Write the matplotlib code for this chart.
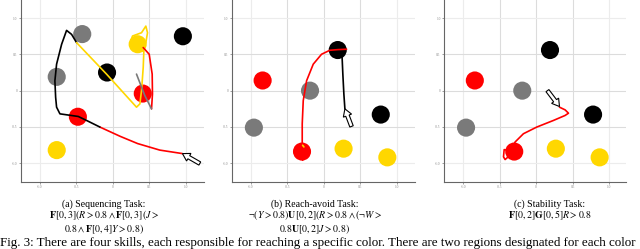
import matplotlib
matplotlib.use('Agg')
import matplotlib.pyplot as plt
from matplotlib.patches import FancyArrow

# Data
ticks = [-1.0, -0.5, 0.0, 0.5, 1.0]
tick_labels = ['-1.0', '-0.5', '0', '0.5', '1.0']

# goal regions, panel (a)
a_circ_x = [-0.42, -0.77, -0.08, 0.34, 0.96, 0.41, -0.48, -0.77]
a_circ_y = [0.78, 0.19, 0.25, 0.64, 0.75, -0.04, -0.36, -0.82]
a_circ_c = ['gray', 'gray', 'black', 'yellow', 'black', 'red', 'red', 'yellow']

# goal regions, panels (b) and (c)
bc_circ_x = [0.19, -0.84, -0.19, -0.96, 0.78, -0.30, 0.27, 0.87]
bc_circ_y = [0.56, 0.14, 0.0, -0.51, -0.33, -0.84, -0.80, -0.92]
bc_circ_c = ['black', 'red', 'gray', 'gray', 'black', 'red', 'yellow', 'yellow']

# trajectory (a), split by active skill
a_seg_c = ['red', 'black', 'yellow', 'red', 'gray']
a_seg_x = [
    [0.954, 0.644, 0.340, 0.100, -0.178],
    [-0.178, -0.361, -0.475, -0.635, -0.726, -0.772, -0.785, -0.795, -0.772, -0.703, -0.635, -0.566, -0.498],
    [-0.498, -0.087, 0.324, 0.370, 0.393, 0.416, 0.425, 0.301, 0.233, 0.269, 0.393, 0.452, 0.475, 0.452, 0.416],
    [0.416, 0.498, 0.539, 0.543, 0.530],
    [0.530, 0.438, 0.324],
]
a_seg_y = [
    [-0.868, -0.820, -0.730, -0.630, -0.502],
    [-0.502, -0.411, -0.356, -0.333, -0.320, -0.228, -0.091, 0.137, 0.365, 0.639, 0.831, 0.776, 0.662],
    [0.662, 0.228, -0.228, -0.183, 0.0, 0.320, 0.548, 0.548, 0.639, 0.753, 0.799, 0.890, 0.799, 0.662, 0.594],
    [0.594, 0.502, 0.228, -0.046, -0.251],
    [-0.251, -0.068, 0.228],
]
a_start = (1.192, -1.005)
a_head = (0.954, -0.868)

# trajectory (b)
b_seg_c = ['black', 'red', 'yellow']
b_seg_x = [
    [0.288, 0.274, 0.260, 0.251, 0.242],
    [0.311, 0.196, 0.082, -0.032, -0.146, -0.237, -0.283, -0.297, -0.297, -0.292],
    [-0.292, -0.274],
]
b_seg_y = [
    [-0.251, -0.046, 0.228, 0.434, 0.548],
    [0.571, 0.566, 0.557, 0.502, 0.365, 0.137, -0.137, -0.457, -0.731, -0.959],
    [-0.753, -0.776],
]
b_start = (0.379, -0.493)
b_head = (0.288, -0.251)

# trajectory (c)
c_seg_c = ['red']
c_seg_x = [[0.320, 0.397, 0.443, 0.397, 0.237, 0.009, -0.174, -0.288, -0.333, -0.393, -0.438, -0.447, -0.425, -0.393]]
c_seg_y = [[-0.228, -0.265, -0.311, -0.342, -0.411, -0.502, -0.594, -0.708, -0.799, -0.822, -0.813, -0.913, -0.950, -0.922]]
c_start = (0.155, 0.0)
c_head = (0.320, -0.219)

captions = [
    ['(a) Sequencing Task:',
     r'$\mathbf{F}[0,3](R>0.8\wedge\mathbf{F}[0,3](J>$',
     r'$0.8\wedge\mathbf{F}[0,4]Y>0.8)$'],
    ['(b) Reach-avoid Task:',
     r'$\neg(Y>0.8)\mathbf{U}[0,2](R>0.8\wedge(\neg W>$',
     r'$0.8\mathbf{U}[0,2]J>0.8)$'],
    ['(c) Stability Task:',
     r'$\mathbf{F}[0,2]\mathbf{G}[0,5]R>0.8$'],
]
fig_caption = ('Fig. 3: There are four skills, each responsible for reaching a specific color. '
               'There are two regions designated for each color')

palette = {'red': '#ff0000', 'yellow': '#ffd700', 'gray': '#7a7a7a', 'black': '#000000'}

plt.rcParams['font.family'] = ['Liberation Serif', 'DejaVu Serif']
plt.rcParams['mathtext.fontset'] = 'stix'

fig = plt.figure(figsize=(6.4, 2.49), dpi=100)

panels = [
    ([0.0328, 0.269, 0.286, 0.731], (-1.26, 1.25), a_circ_x, a_circ_y, a_circ_c,
     a_seg_x, a_seg_y, a_seg_c, a_start, a_head),
    ([0.3625, 0.269, 0.286, 0.731], (-1.26, 1.25), bc_circ_x, bc_circ_y, bc_circ_c,
     b_seg_x, b_seg_y, b_seg_c, b_start, b_head),
    ([0.694, 0.269, 0.284, 0.731], (-1.26, 1.23), bc_circ_x, bc_circ_y, bc_circ_c,
     c_seg_x, c_seg_y, c_seg_c, c_start, c_head),
]

for rect, xlim, cx, cy, cc, sx, sy, sc, start, head in panels:
    ax = fig.add_axes(rect)
    ax.set_xlim(*xlim)
    ax.set_ylim(-1.26, 1.25)
    ax.set_xticks(ticks)
    ax.set_xticklabels(tick_labels)
    ax.set_yticks(ticks)
    ax.set_yticklabels(tick_labels)
    ax.tick_params(labelsize=2.5, labelcolor='#888888', length=1.5, width=0.5,
                   color='#777777', pad=1)
    ax.grid(True, color='#dcdcdc', linewidth=0.8)
    for i, g in enumerate(ax.xaxis.get_gridlines() + ax.yaxis.get_gridlines()):
        if i % 5 in (0, 4):
            g.set_color('#ececec')
    ax.set_axisbelow(True)
    for s in ['top', 'right']:
        ax.spines[s].set_visible(False)
    for s in ['left', 'bottom']:
        ax.spines[s].set_color('#666666')
        ax.spines[s].set_linewidth(0.8)

    ax.scatter(cx, cy, s=170, c=[palette[c] for c in cc], linewidths=0, zorder=2)
    for xs, ys, c in zip(sx, sy, sc):
        ax.plot(xs, ys, color=palette[c], lw=1.2, zorder=3, solid_capstyle='round')
    ax.add_patch(FancyArrow(start[0], start[1], head[0] - start[0], head[1] - start[1],
                            width=0.05, head_width=0.12, head_length=0.1,
                            length_includes_head=True, fc='white', ec='black',
                            lw=0.8, zorder=4))

cap_x = [104 / 640, 315 / 640, 550 / 640]
for x, lines in zip(cap_x, captions):
    fig.text(x, (249 - 199) / 249, '\n'.join(lines), ha='center', va='top',
             multialignment='center', linespacing=1.0, fontsize=7.1)

fig.text(0.0, (249 - 237) / 249, fig_caption, ha='left', va='top', fontsize=9.4)

plt.savefig('out.png', dpi=100)
